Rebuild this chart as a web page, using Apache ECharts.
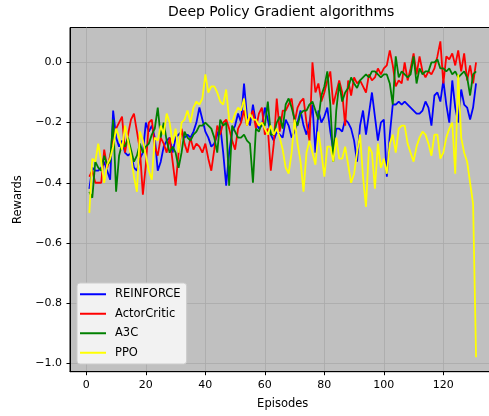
<!DOCTYPE html>
<html>
<head>
<meta charset="utf-8">
<script src="https://cdn.jsdelivr.net/npm/echarts@6/dist/echarts.min.js"></script>
<style>html,body{margin:0;padding:0;background:#fff;}#c{width:489px;height:416px;}</style>
</head>
<body>
<div id="c"></div>
<script>
const titleText = 'Deep Policy Gradient algorithms';
const seriesNames = ['REINFORCE', 'ActorCritic', 'A3C', 'PPO'];
const xTicks = [0, 20, 40, 60, 80, 100, 120];
const yTicks = [-1.0, -0.8, -0.6, -0.4, -0.2, 0.0];

const reinforce = [
 -0.42,-0.35,-0.36,-0.36,-0.35,-0.33,-0.36,-0.39,-0.16,-0.25,
 -0.28,-0.26,-0.30,-0.31,-0.30,-0.35,-0.36,-0.32,-0.30,-0.20,
 -0.23,-0.21,-0.25,-0.36,-0.33,-0.28,-0.26,-0.25,-0.30,-0.25,
 -0.24,-0.23,-0.25,-0.24,-0.25,-0.23,-0.20,-0.15,-0.19,-0.23,
 -0.25,-0.28,-0.27,-0.24,-0.21,-0.30,-0.41,-0.30,-0.23,-0.21,
 -0.17,-0.20,-0.07,-0.18,-0.21,-0.14,-0.20,-0.22,-0.21,-0.15,
 -0.19,-0.24,-0.26,-0.23,-0.24,-0.25,-0.19,-0.21,-0.25,-0.23,
 -0.20,-0.16,-0.21,-0.24,-0.20,-0.14,-0.30,-0.16,-0.20,-0.18,
 -0.15,-0.23,-0.29,-0.22,-0.22,-0.23,-0.19,-0.20,-0.22,-0.26,
 -0.33,-0.21,-0.16,-0.24,-0.17,-0.10,-0.18,-0.26,-0.20,-0.19,
 -0.38,-0.24,-0.14,-0.14,-0.13,-0.14,-0.13,-0.14,-0.15,-0.16,
 -0.17,-0.17,-0.16,-0.13,-0.15,-0.21,-0.11,-0.10,-0.13,-0.06,
 -0.14,-0.20,-0.06,-0.15,-0.20,-0.09,-0.14,-0.15,-0.19,-0.15,-0.07
];
const actorCritic = [
 -0.38,-0.36,-0.40,-0.40,-0.40,-0.29,-0.35,-0.31,-0.26,-0.22,
 -0.20,-0.18,-0.30,-0.24,-0.19,-0.17,-0.23,-0.29,-0.44,-0.34,
 -0.20,-0.19,-0.28,-0.31,-0.25,-0.27,-0.30,-0.25,-0.33,-0.41,
 -0.30,-0.22,-0.27,-0.30,-0.25,-0.29,-0.27,-0.28,-0.30,-0.27,
 -0.32,-0.36,-0.29,-0.21,-0.24,-0.20,-0.19,-0.22,-0.26,-0.29,
 -0.22,-0.20,-0.16,-0.21,-0.18,-0.16,-0.22,-0.17,-0.15,-0.24,
 -0.22,-0.36,-0.27,-0.12,-0.23,-0.16,-0.16,-0.14,-0.12,-0.20,
 -0.15,-0.13,-0.12,-0.20,-0.26,0.00,-0.10,-0.07,-0.13,-0.10,
 -0.06,-0.03,-0.14,-0.10,-0.06,-0.10,-0.21,-0.06,-0.11,-0.05,
 -0.07,-0.06,-0.08,-0.10,-0.04,-0.06,-0.05,-0.02,-0.04,-0.02,
 -0.01,0.04,-0.01,-0.08,-0.06,-0.07,0.00,-0.06,-0.02,0.03,
 -0.04,0.02,-0.03,-0.05,-0.03,-0.04,-0.02,0.02,0.07,-0.07,
 0.02,0.01,0.03,-0.01,0.04,-0.03,0.03,-0.06,-0.01,-0.07,0.00
];
const a3c = [
 -0.43,-0.45,-0.33,-0.35,-0.36,-0.31,-0.34,-0.33,-0.19,-0.43,
 -0.31,-0.27,-0.28,-0.25,-0.29,-0.33,-0.31,-0.27,-0.30,-0.28,
 -0.27,-0.24,-0.22,-0.15,-0.25,-0.20,-0.26,-0.30,-0.28,-0.30,
 -0.35,-0.30,-0.23,-0.25,-0.26,-0.24,-0.23,-0.21,-0.21,-0.20,
 -0.21,-0.22,-0.25,-0.30,-0.19,-0.21,-0.20,-0.41,-0.21,-0.23,
 -0.25,-0.25,-0.24,-0.26,-0.27,-0.40,-0.22,-0.23,-0.20,-0.21,
 -0.13,-0.24,-0.24,-0.20,-0.18,-0.22,-0.14,-0.12,-0.15,-0.19,
 -0.21,-0.17,-0.16,-0.16,-0.14,-0.13,-0.16,-0.19,-0.11,-0.08,
 -0.03,-0.14,-0.33,-0.16,-0.07,-0.13,-0.10,-0.085,-0.05,-0.07,
 -0.085,-0.06,-0.05,-0.04,-0.05,-0.03,-0.03,-0.04,-0.05,-0.04,
 -0.04,-0.07,-0.14,0.02,-0.05,-0.03,-0.04,-0.05,-0.04,0.02,
 -0.07,-0.02,-0.04,-0.03,-0.03,0.00,0.00,0.01,-0.02,-0.02,
 -0.03,-0.02,-0.04,-0.03,-0.05,-0.04,-0.03,-0.05,-0.11,-0.04,-0.03
];
const ppo = [
 -0.50,-0.32,-0.33,-0.27,-0.33,-0.40,-0.34,-0.32,-0.28,-0.22,
 -0.25,-0.29,-0.21,-0.26,-0.31,-0.38,-0.43,-0.23,-0.26,-0.31,
 -0.36,-0.39,-0.25,-0.26,-0.21,-0.24,-0.17,-0.20,-0.27,-0.22,
 -0.30,-0.20,-0.19,-0.16,-0.20,-0.15,-0.13,-0.14,-0.12,-0.04,
 -0.10,-0.08,-0.08,-0.10,-0.13,-0.14,-0.09,-0.19,-0.20,-0.17,
 -0.15,-0.16,-0.12,-0.21,-0.17,-0.19,-0.19,-0.21,-0.20,-0.22,
 -0.24,-0.21,-0.24,-0.22,-0.25,-0.29,-0.35,-0.37,-0.30,-0.19,
 -0.27,-0.33,-0.43,-0.30,-0.26,-0.30,-0.34,-0.23,-0.30,-0.38,
 -0.28,-0.28,-0.33,-0.25,-0.32,-0.32,-0.28,-0.34,-0.40,-0.37,
 -0.30,-0.24,-0.38,-0.48,-0.28,-0.30,-0.42,-0.27,-0.35,-0.32,
 -0.37,-0.27,-0.24,-0.30,-0.22,-0.21,-0.21,-0.27,-0.30,-0.33,
 -0.28,-0.25,-0.23,-0.24,-0.27,-0.31,-0.24,-0.24,-0.32,-0.30,
 -0.25,-0.22,-0.20,-0.37,-0.04,-0.25,-0.30,-0.33,-0.40,-0.47,-0.98
];
const episodes = reinforce.map((_, i) => i + 1);

const seriesValues = [reinforce, actorCritic, a3c, ppo];
const seriesColors = ['#0000ff', '#ff0000', '#008000', '#ffff00'];

const FONT = 'DejaVu Sans';
const chart = echarts.init(document.getElementById('c'), null, {renderer: 'canvas'});
chart.setOption({
  animation: false,
  backgroundColor: '#ffffff',
  title: {
    text: titleText, left: 168, top: 5, padding: 0,
    textStyle: {fontFamily: FONT, fontSize: 14, fontWeight: 'normal', color: '#000'}
  },
  grid: {
    left: 70, top: 27.5, bottom: 44.3, right: -6.4,
    containLabel: false, outerBoundsMode: 'none',
    show: true, backgroundColor: '#c0c0c0', borderColor: '#000', borderWidth: 1
  },
  legend: {
    left: 77, top: 283, orient: 'vertical',
    icon: 'rect', itemWidth: 26, itemHeight: 2, itemGap: 5,
    padding: [4, 6, 4, 3],
    backgroundColor: '#f2f2f2', borderColor: '#cccccc', borderWidth: 1, borderRadius: 3,
    textStyle: {fontFamily: FONT, fontSize: 11.5, color: '#000', lineHeight: 14.5, padding: [0, 0, 0, 4]},
    data: seriesNames
  },
  xAxis: {
    type: 'value', min: -5.5, max: 137.5, splitNumber: 7,
    name: 'Episodes', nameLocation: 'middle', nameGap: 26,
    nameTextStyle: {fontFamily: FONT, fontSize: 11.5, color: '#000'},
    axisLine: {show: true, onZero: false, lineStyle: {color: '#000', width: 1}},
    axisTick: {show: true, length: 3.5, customValues: xTicks, lineStyle: {color: '#000'}},
    axisLabel: {customValues: xTicks, margin: 8, fontFamily: FONT, fontSize: 11, color: '#000'},
    splitLine: {show: true, lineStyle: {color: '#aaaaaa', width: 0.8}}
  },
  yAxis: {
    type: 'value', min: -1.028, max: 0.116, splitNumber: 6,
    name: 'Rewards', nameLocation: 'middle', nameGap: 43,
    nameTextStyle: {fontFamily: FONT, fontSize: 11.5, color: '#000'},
    axisLine: {show: true, onZero: false, lineStyle: {color: '#000', width: 1}},
    axisTick: {show: true, length: 3.5, customValues: yTicks, lineStyle: {color: '#000'}},
    axisLabel: {
      customValues: yTicks, margin: 8, fontFamily: FONT, fontSize: 11, color: '#000',
      formatter: v => (v < -1e-9 ? '\u2212' : '') + Math.abs(v).toFixed(1)
    },
    splitLine: {show: true, lineStyle: {color: '#aaaaaa', width: 0.8}}
  },
  series: seriesNames.map((name, k) => ({
    name: name, type: 'line', showSymbol: false, symbol: 'none',
    color: seriesColors[k],
    lineStyle: {color: seriesColors[k], width: 1.8},
    data: episodes.map((x, i) => [x, seriesValues[k][i]])
  }))
});
</script>
</body>
</html>
